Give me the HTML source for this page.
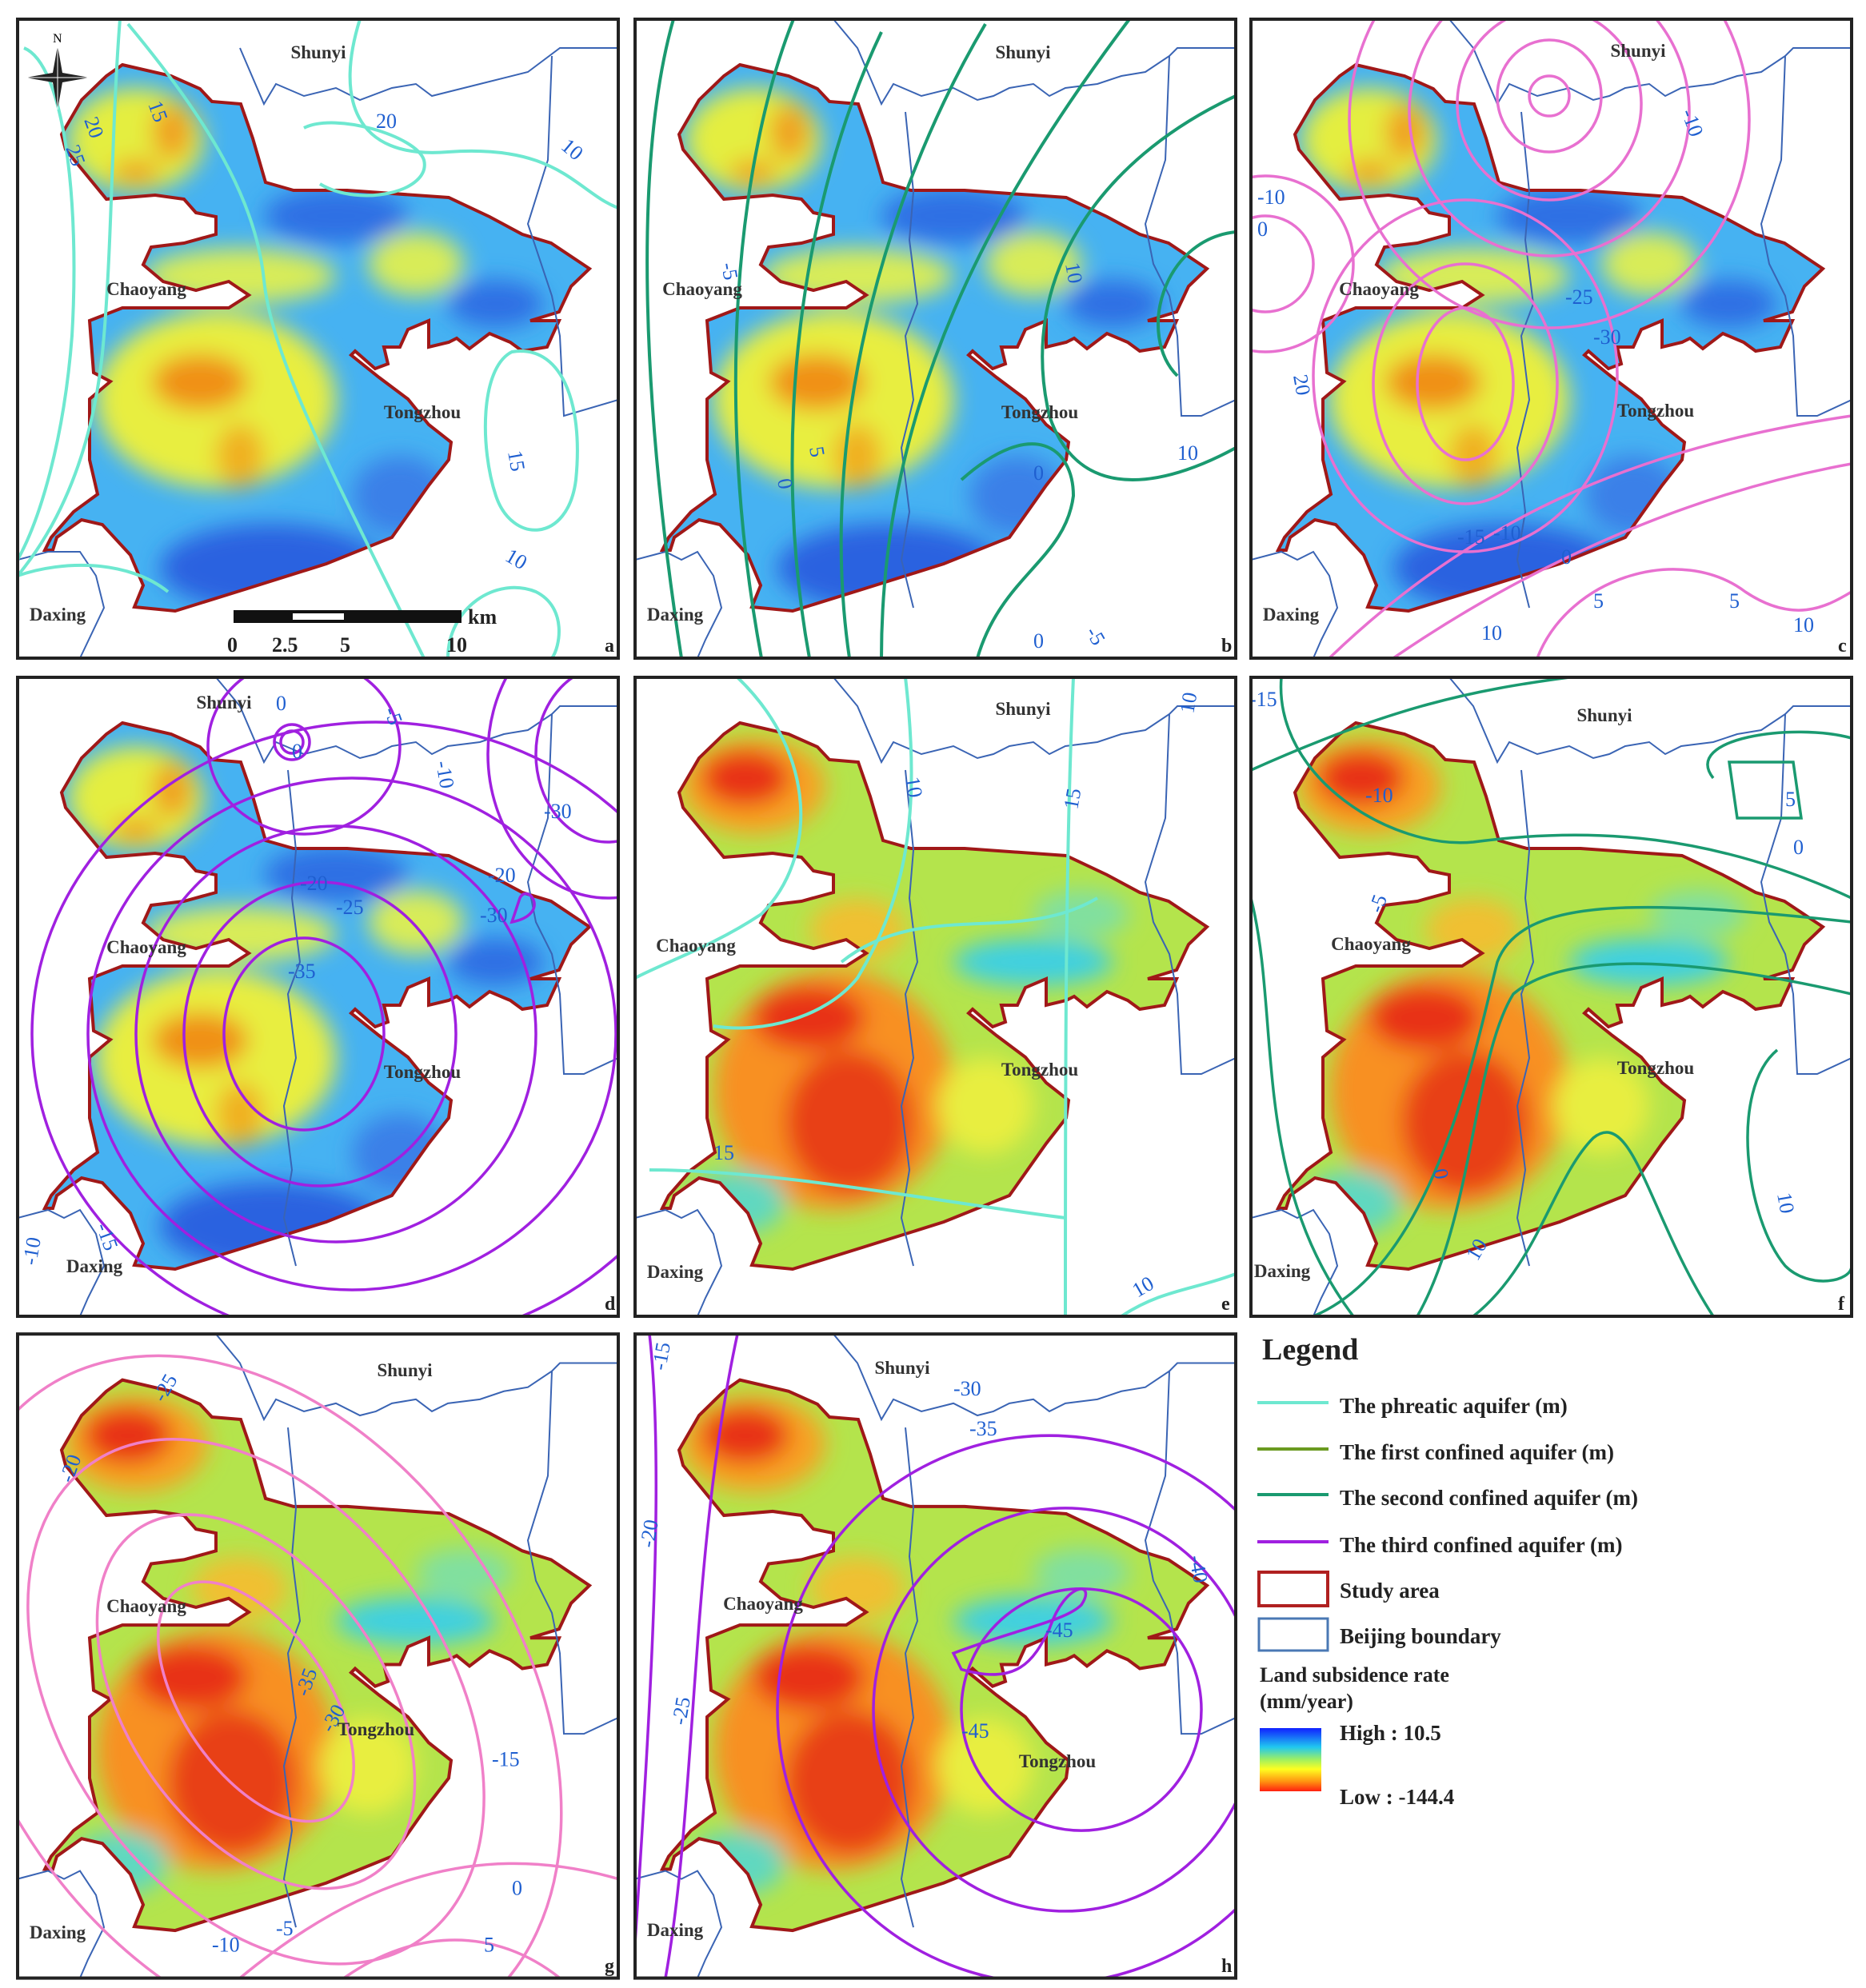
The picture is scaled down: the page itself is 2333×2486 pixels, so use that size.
<!DOCTYPE html>
<html><head><meta charset="utf-8"><style>html,body{margin:0;padding:0;background:#fff;overflow:hidden;width:2333px;height:2486px}svg{display:block}</style></head>
<body>
<svg xmlns="http://www.w3.org/2000/svg" xmlns:xlink="http://www.w3.org/1999/xlink" width="2333" height="2486" viewBox="0 0 2333 2486">
<defs>
<path id="sa" d="M153 81 L214 95 L250 111 L265 127 L301 130 L316 173 L332 228 L367 238 L434 238 L561 247 L612 271 L653 293 L689 304 L737 336 L714 358 L699 390 L663 401 L699 401 L684 434 L653 439 L638 428 L612 417 L587 436 L571 423 L561 428 L536 434 L536 401 L510 412 L500 434 L480 434 L485 455 L469 461 L444 439 L439 444 L474 472 L510 499 L536 531 L564 553 L561 575 L536 607 L490 672 L408 705 L306 737 L219 764 L168 759 L179 732 L163 694 L128 656 L102 650 L71 672 L66 688 L56 688 L64 672 L92 640 L122 618 L112 575 L112 499 L138 477 L117 466 L112 401 L153 385 L286 385 L311 369 L286 352 L245 363 L204 352 L179 331 L189 309 L230 304 L270 293 L270 271 L245 266 L230 249 L194 244 L133 249 L82 187 L77 168 L102 125 L133 95 Z"/>
<clipPath id="clipSa"><use xlink:href="#sa"/></clipPath>
<clipPath id="clipP"><rect x="22" y="24" width="751" height="799"/></clipPath>
<filter id="bl" x="-50%" y="-50%" width="200%" height="200%"><feGaussianBlur stdDeviation="14"/></filter>
<linearGradient id="cb" x1="0" y1="0" x2="0" y2="1">
<stop offset="0" stop-color="#1020ff"/><stop offset="0.3" stop-color="#20c8f0"/><stop offset="0.5" stop-color="#a0f060"/><stop offset="0.65" stop-color="#ffff20"/><stop offset="0.85" stop-color="#ff9010"/><stop offset="1" stop-color="#ff2010"/></linearGradient>
<g id="fillBlue">
<rect x="22" y="24" width="751" height="799" fill="#46b2f2"/>
<g filter="url(#bl)">
<ellipse cx="170" cy="175" rx="85" ry="65" fill="#e4ee40"/>
<ellipse cx="215" cy="165" rx="25" ry="35" fill="#f0a020"/>
<ellipse cx="170" cy="215" rx="30" ry="15" fill="#f0a020"/>
<ellipse cx="300" cy="345" rx="120" ry="35" fill="#d8ec58"/>
<ellipse cx="520" cy="330" rx="60" ry="40" fill="#d8ec58"/>
<ellipse cx="270" cy="500" rx="150" ry="110" fill="#e8ee40"/>
<ellipse cx="250" cy="478" rx="60" ry="35" fill="#f09018"/>
<ellipse cx="300" cy="570" rx="30" ry="40" fill="#f0b020"/>
<ellipse cx="340" cy="710" rx="140" ry="55" fill="#2a62e0"/>
<ellipse cx="420" cy="270" rx="90" ry="35" fill="#2e70e4"/>
<ellipse cx="620" cy="380" rx="60" ry="30" fill="#2e70e4"/>
<ellipse cx="500" cy="620" rx="60" ry="50" fill="#3a80e8"/>
</g></g>
<g id="fillRed">
<rect x="22" y="24" width="751" height="799" fill="#b4e44c"/>
<g filter="url(#bl)">
<ellipse cx="170" cy="160" rx="90" ry="60" fill="#f8a020"/>
<ellipse cx="160" cy="150" rx="55" ry="35" fill="#e83018"/>
<ellipse cx="300" cy="340" rx="60" ry="40" fill="#f0c030"/>
<ellipse cx="270" cy="540" rx="150" ry="150" fill="#f89020"/>
<ellipse cx="240" cy="450" rx="70" ry="40" fill="#e83018"/>
<ellipse cx="290" cy="580" rx="80" ry="90" fill="#e84018"/>
<ellipse cx="520" cy="380" rx="100" ry="30" fill="#40d0e0"/>
<ellipse cx="580" cy="320" rx="60" ry="30" fill="#80e0a0"/>
<ellipse cx="150" cy="680" rx="60" ry="40" fill="#60d8c0"/>
<ellipse cx="460" cy="560" rx="60" ry="60" fill="#e8ee40"/>
</g></g>
<g id="sb"><g clip-path="url(#clipSa)"><use xlink:href="#fillBlue"/></g><use xlink:href="#sa" fill="none" stroke="#a01818" stroke-width="4"/></g>
<g id="sr"><g clip-path="url(#clipSa)"><use xlink:href="#fillRed"/></g><use xlink:href="#sa" fill="none" stroke="#a01818" stroke-width="4"/></g>
<path id="bj" d="M270 24 L300 60 L330 130 L345 105 L380 120 L420 110 L450 125 L470 120 L490 110 L520 105 L540 120 L560 110 L600 105 L630 95 L660 90 L690 70 L700 60 L773 60 M690 70 L685 200 L660 280 L670 330 L690 370 L700 420 L705 520 L730 520 L773 500 M22 700 L60 690 L80 700 L100 690 L120 720 L130 760 L110 800 L100 823 M360 140 L370 240 L365 300 L375 380 L360 420 L370 500 L355 560 L365 640 L355 700 L370 760" fill="none" stroke="#3a64b4" stroke-width="2"/>
</defs>

<!-- a -->
<g transform="translate(0,0)">
<g clip-path="url(#clipP)">
<use xlink:href="#sb"/>
<path d="M300 60 L330 130 L345 105 L380 120 L420 110 L450 125 L490 110 L520 105 L540 120 L600 105 L660 90 L700 60 L773 60 M690 70 L685 200 L660 280 L690 370 L700 420 L705 520 L773 500 M22 700 L60 690 L100 690 L120 720 L130 760 L100 823" fill="none" stroke="#3a64b4" stroke-width="2"/>
<g fill="none" stroke="#6ee8d0" stroke-width="4">
<path d="M30 60 C 80 80, 100 250, 90 420 C 80 550, 50 650, 22 700"/>
<path d="M150 24 C 140 150, 140 300, 130 420 C 120 550, 80 650, 22 720"/>
<path d="M160 30 C 260 150, 320 250, 330 350 C 340 450, 420 600, 530 823"/>
<path d="M450 24 C 420 120, 440 200, 560 190 C 700 180, 720 240, 773 260"/>
<path d="M380 160 C 420 140, 520 170, 530 200 C 540 240, 450 260, 400 230"/>
<path d="M640 440 C 700 430, 730 500, 720 600 C 710 680, 640 680, 620 620 C 600 560, 600 460, 640 440 Z"/>
<path d="M560 823 C 560 760, 620 720, 670 740 C 710 760, 700 810, 690 823"/>
<path d="M22 720 C 80 700, 160 700, 210 740"/>
</g>
<g font-family="Liberation Serif,serif" font-size="26" fill="#1f5fd0">
<text x="105" y="150" transform="rotate(70 105 150)">20</text>
<text x="82" y="185" transform="rotate(70 82 185)">25</text>
<text x="185" y="130" transform="rotate(70 185 130)">15</text>
<text x="470" y="160">20</text>
<text x="700" y="185" transform="rotate(40 700 185)">10</text>
<text x="635" y="565" transform="rotate(80 635 565)">15</text>
<text x="630" y="700" transform="rotate(30 630 700)">10</text>
</g>
</g>
<rect x="22" y="24" width="751" height="799" fill="none" stroke="#222" stroke-width="4"/>
<g transform="translate(72,97)"><path d="M0 -40 L6 -6 L40 0 L6 6 L0 40 L-6 6 L-40 0 L-6 -6 Z" fill="#222"/><path d="M0 -40 L0 40 M-40 0 L40 0" stroke="#fff" stroke-width="1"/><text x="-6" y="-44" font-family="Liberation Serif,serif" font-size="16">N</text></g>
<rect x="292" y="763" width="285" height="16" fill="#111"/>
<rect x="366" y="767" width="64" height="8" fill="#fff"/>
<g font-family="Liberation Serif,serif" font-weight="bold" font-size="26" fill="#222">
<text x="585" y="780">km</text>
<text x="284" y="815">0</text><text x="340" y="815">2.5</text><text x="425" y="815">5</text><text x="558" y="815">10</text>
</g>
</g>

<!-- b -->
<g transform="translate(772,0)">
<g clip-path="url(#clipP)">
<use xlink:href="#sb"/>
<use xlink:href="#bj"/>
<g fill="none" stroke="#1a9a70" stroke-width="4">
<path d="M70 24 C 20 200, 30 500, 80 823"/>
<path d="M220 24 C 150 200, 120 500, 180 823"/>
<path d="M330 40 C 230 250, 190 550, 240 823"/>
<path d="M460 30 C 330 250, 250 550, 290 823"/>
<path d="M640 24 C 470 250, 330 500, 330 823"/>
<path d="M773 120 C 600 200, 500 350, 540 520 C 580 640, 700 600, 773 560"/>
<path d="M773 290 C 680 300, 650 420, 700 470"/>
<path d="M430 600 C 520 520, 570 560, 570 620 C 560 700, 480 720, 450 823"/>
</g>
<g font-family="Liberation Serif,serif" font-size="26" fill="#1f5fd0">
<text x="130" y="330" transform="rotate(80 130 330)">-5</text>
<text x="200" y="600" transform="rotate(80 200 600)">0</text>
<text x="240" y="560" transform="rotate(80 240 560)">5</text>
<text x="560" y="330" transform="rotate(80 560 330)">10</text>
<text x="520" y="600">0</text>
<text x="700" y="575">10</text>
<text x="520" y="810">0</text>
<text x="585" y="790" transform="rotate(60 585 790)">-5</text>
</g>
</g>
<rect x="22" y="24" width="751" height="799" fill="none" stroke="#222" stroke-width="4"/>
</g>

<!-- c -->
<g transform="translate(1542,0)">
<g clip-path="url(#clipP)">
<use xlink:href="#sb"/>
<use xlink:href="#bj"/>
<g fill="none" stroke="#e870d0" stroke-width="3.5">
<ellipse cx="395" cy="120" rx="25" ry="25"/>
<ellipse cx="395" cy="120" rx="65" ry="70"/>
<ellipse cx="395" cy="130" rx="115" ry="120"/>
<ellipse cx="395" cy="140" rx="175" ry="180"/>
<ellipse cx="395" cy="150" rx="250" ry="260"/>
<ellipse cx="290" cy="480" rx="60" ry="95"/>
<ellipse cx="290" cy="480" rx="115" ry="150"/>
<ellipse cx="290" cy="470" rx="190" ry="220"/>
<ellipse cx="40" cy="330" rx="60" ry="60"/>
<ellipse cx="40" cy="330" rx="110" ry="110"/>
<path d="M120 823 C 300 650, 500 560, 773 520"/>
<path d="M200 823 C 350 720, 550 620, 773 580"/>
<path d="M380 823 C 420 720, 560 680, 640 740 C 700 780, 740 760, 773 740"/>
</g>
<g font-family="Liberation Serif,serif" font-size="26" fill="#1f5fd0">
<text x="30" y="255">-10</text><text x="30" y="295">0</text>
<text x="75" y="470" transform="rotate(80 75 470)">20</text>
<text x="415" y="380">-25</text><text x="450" y="430">-30</text>
<text x="280" y="680">-15</text><text x="325" y="675">-10</text>
<text x="410" y="705">0</text><text x="450" y="760">5</text><text x="620" y="760">5</text>
<text x="310" y="800">10</text><text x="700" y="790">10</text>
<text x="560" y="140" transform="rotate(70 560 140)">-10</text>
</g>
</g>
<rect x="22" y="24" width="751" height="799" fill="none" stroke="#222" stroke-width="4"/>
</g>

<!-- d -->
<g transform="translate(0,823)">
<g clip-path="url(#clipP)">
<use xlink:href="#sb"/>
<use xlink:href="#bj"/>
<g fill="none" stroke="#a020e0" stroke-width="3.5">
<ellipse cx="365" cy="105" rx="22" ry="22"/>
<ellipse cx="365" cy="105" rx="14" ry="14"/>
<ellipse cx="380" cy="110" rx="120" ry="110"/>
<ellipse cx="380" cy="470" rx="100" ry="120"/>
<ellipse cx="400" cy="470" rx="170" ry="190"/>
<ellipse cx="420" cy="470" rx="250" ry="260"/>
<ellipse cx="440" cy="470" rx="330" ry="320"/>
<ellipse cx="470" cy="470" rx="430" ry="390"/>
<ellipse cx="760" cy="120" rx="90" ry="110"/>
<ellipse cx="760" cy="120" rx="150" ry="180"/>
<path d="M650 300 C 660 280, 690 320, 640 330 Z"/>
</g>
<g font-family="Liberation Serif,serif" font-size="26" fill="#1f5fd0">
<text x="345" y="65">0</text><text x="365" y="125">0</text>
<text x="480" y="65" transform="rotate(70 480 65)">-5</text>
<text x="545" y="130" transform="rotate(80 545 130)">-10</text>
<text x="680" y="200">-30</text>
<text x="375" y="290">-20</text><text x="420" y="320">-25</text>
<text x="360" y="400">-35</text><text x="610" y="280">-20</text><text x="600" y="330">-30</text>
<text x="120" y="710" transform="rotate(70 120 710)">-15</text>
<text x="45" y="760" transform="rotate(-80 45 760)">-10</text>
</g>
</g>
<rect x="22" y="24" width="751" height="799" fill="none" stroke="#222" stroke-width="4"/>
</g>

<!-- e -->
<g transform="translate(772,823)">
<g clip-path="url(#clipP)">
<use xlink:href="#sr"/>
<use xlink:href="#bj"/>
<g fill="none" stroke="#6ee8d0" stroke-width="4">
<path d="M150 24 C 250 120, 250 250, 180 320 C 120 360, 60 380, 22 400"/>
<path d="M360 24 C 380 200, 360 300, 300 400 C 260 450, 180 470, 120 460"/>
<path d="M570 24 C 560 250, 560 500, 560 823"/>
<path d="M40 640 C 200 640, 400 680, 560 700"/>
<path d="M280 380 C 380 300, 500 360, 600 300"/>
<path d="M630 823 C 680 790, 720 790, 773 770"/>
</g>
<g font-family="Liberation Serif,serif" font-size="26" fill="#1f5fd0">
<text x="360" y="150" transform="rotate(80 360 150)">10</text>
<text x="575" y="190" transform="rotate(-80 575 190)">15</text>
<text x="720" y="70" transform="rotate(-80 720 70)">10</text>
<text x="120" y="627">15</text>
<text x="650" y="800" transform="rotate(-30 650 800)">10</text>
</g>
</g>
<rect x="22" y="24" width="751" height="799" fill="none" stroke="#222" stroke-width="4"/>
</g>

<!-- f -->
<g transform="translate(1542,823)">
<g clip-path="url(#clipP)">
<use xlink:href="#sr"/>
<use xlink:href="#bj"/>
<g fill="none" stroke="#1a9a70" stroke-width="3.5">
<path d="M22 140 C 200 60, 300 40, 420 24"/>
<path d="M60 24 C 50 150, 200 240, 300 230 C 450 210, 600 220, 773 300"/>
<path d="M22 300 C 60 450, 20 650, 150 823"/>
<path d="M100 823 C 250 760, 300 500, 330 380 C 360 300, 500 300, 773 330"/>
<path d="M230 823 C 300 700, 300 500, 350 420 C 420 360, 600 380, 773 420"/>
<path d="M300 823 C 380 760, 400 650, 450 600 C 500 560, 520 700, 600 823"/>
<path d="M600 150 C 560 100, 700 80, 773 100 M620 130 L700 130 L710 200 L630 200 Z"/>
<path d="M680 490 C 620 540, 640 700, 690 760 C 720 790, 773 780, 773 760"/>
</g>
<g font-family="Liberation Serif,serif" font-size="26" fill="#1f5fd0">
<text x="20" y="60">-15</text><text x="165" y="180">-10</text>
<text x="185" y="320" transform="rotate(-70 185 320)">-5</text>
<text x="690" y="185">5</text><text x="700" y="245">0</text>
<text x="680" y="670" transform="rotate(80 680 670)">10</text>
<text x="250" y="640" transform="rotate(80 250 640)">0</text>
<text x="305" y="755" transform="rotate(-60 305 755)">10</text>
</g>
</g>
<rect x="22" y="24" width="751" height="799" fill="none" stroke="#222" stroke-width="4"/>
</g>

<!-- g -->
<g transform="translate(0,1644) scale(1,1.008)">
<g clip-path="url(#clipP)">
<use xlink:href="#sr"/>
<use xlink:href="#bj"/>
<g fill="none" stroke="#f080c8" stroke-width="3.5">
<g transform="rotate(-35 320 480)">
<ellipse cx="320" cy="480" rx="90" ry="170"/>
<ellipse cx="320" cy="480" rx="160" ry="260"/>
<ellipse cx="320" cy="480" rx="240" ry="360"/>
<ellipse cx="320" cy="480" rx="330" ry="470"/>
</g>
<path d="M300 823 C 450 700, 600 650, 773 700"/>
<path d="M430 823 C 520 760, 620 760, 700 823"/>
</g>
<g font-family="Liberation Serif,serif" font-size="26" fill="#1f5fd0">
<text x="90" y="210" transform="rotate(-70 90 210)">-20</text>
<text x="205" y="110" transform="rotate(-60 205 110)">-25</text>
<text x="385" y="475" transform="rotate(-70 385 475)">-35</text>
<text x="415" y="520" transform="rotate(-60 415 520)">-30</text>
<text x="615" y="560">-15</text><text x="640" y="720">0</text><text x="605" y="790">5</text>
<text x="265" y="790">-10</text><text x="345" y="770">-5</text>
</g>
</g>
<rect x="22" y="24" width="751" height="799" fill="none" stroke="#222" stroke-width="4"/>
</g>

<!-- h -->
<g transform="translate(772,1644) scale(1,1.008)">
<g clip-path="url(#clipP)">
<use xlink:href="#sr"/>
<use xlink:href="#bj"/>
<g fill="none" stroke="#a020e0" stroke-width="3.5">
<path d="M22 780 C 40 500, 60 200, 40 24"/>
<path d="M60 823 C 100 600, 90 300, 150 24"/>
<ellipse cx="580" cy="490" rx="150" ry="150"/>
<ellipse cx="560" cy="490" rx="240" ry="250"/>
<ellipse cx="540" cy="490" rx="340" ry="340"/>
<path d="M420 420 C 500 390, 560 380, 580 360 C 600 330, 560 330, 540 390 C 520 430, 500 460, 430 440 Z"/>
</g>
<g font-family="Liberation Serif,serif" font-size="26" fill="#1f5fd0">
<text x="60" y="70" transform="rotate(-80 60 70)">-15</text>
<text x="45" y="290" transform="rotate(-80 45 290)">-20</text>
<text x="85" y="510" transform="rotate(-80 85 510)">-25</text>
<text x="420" y="100">-30</text><text x="440" y="150">-35</text>
<text x="430" y="525">-45</text><text x="535" y="400">-45</text>
<text x="715" y="300" transform="rotate(80 715 300)">-40</text>
</g>
</g>
<rect x="22" y="24" width="751" height="799" fill="none" stroke="#222" stroke-width="4"/>
</g>

<g font-family="Liberation Serif,serif" font-weight="bold" font-size="23" fill="#333" text-anchor="middle">
<text x="398" y="73">Shunyi</text><text x="183" y="369">Chaoyang</text><text x="528" y="523">Tongzhou</text><text x="72" y="776">Daxing</text>
<text x="1279" y="73">Shunyi</text><text x="878" y="369">Chaoyang</text><text x="1300" y="523">Tongzhou</text><text x="844" y="776">Daxing</text>
<text x="2048" y="71">Shunyi</text><text x="1724" y="369">Chaoyang</text><text x="2070" y="521">Tongzhou</text><text x="1614" y="776">Daxing</text>
<text x="280" y="886">Shunyi</text><text x="183" y="1192">Chaoyang</text><text x="528" y="1348">Tongzhou</text><text x="118" y="1591">Daxing</text>
<text x="1279" y="894">Shunyi</text><text x="870" y="1190">Chaoyang</text><text x="1300" y="1345">Tongzhou</text><text x="844" y="1598">Daxing</text>
<text x="2006" y="902">Shunyi</text><text x="1714" y="1188">Chaoyang</text><text x="2070" y="1343">Tongzhou</text><text x="1603" y="1597">Daxing</text>
<text x="506" y="1721">Shunyi</text><text x="183" y="2016">Chaoyang</text><text x="470" y="2170">Tongzhou</text><text x="72" y="2424">Daxing</text>
<text x="1128" y="1718">Shunyi</text><text x="954" y="2013">Chaoyang</text><text x="1322" y="2210">Tongzhou</text><text x="844" y="2421">Daxing</text>
</g>
<g font-family="Liberation Serif,serif" font-weight="bold" font-size="24" fill="#222">
<text x="756" y="815">a</text><text x="1527" y="815">b</text><text x="2298" y="815">c</text>
<text x="756" y="1638">d</text><text x="1527" y="1638">e</text><text x="2298" y="1638">f</text>
<text x="756" y="2466">g</text><text x="1527" y="2466">h</text>
</g>

<g font-family="Liberation Serif,serif" font-weight="bold" fill="#222">
<text x="1578" y="1700" font-size="38">Legend</text>
<line x1="1572" y1="1754" x2="1661" y2="1754" stroke="#6ee8d0" stroke-width="4"/>
<line x1="1572" y1="1812" x2="1661" y2="1812" stroke="#6a9a20" stroke-width="4"/>
<line x1="1572" y1="1869" x2="1661" y2="1869" stroke="#1a9a70" stroke-width="4"/>
<line x1="1572" y1="1928" x2="1661" y2="1928" stroke="#a020e0" stroke-width="4"/>
<g font-size="27">
<text x="1675" y="1767">The phreatic aquifer (m)</text>
<text x="1675" y="1825">The first confined aquifer (m)</text>
<text x="1675" y="1882">The second confined aquifer (m)</text>
<text x="1675" y="1941">The third confined aquifer (m)</text>
<text x="1675" y="1998">Study area</text>
<text x="1675" y="2055">Beijing boundary</text>
<text x="1575" y="2103" font-size="26">Land subsidence rate</text>
<text x="1575" y="2136" font-size="26">(mm/year)</text>
<text x="1675" y="2176">High : 10.5</text>
<text x="1675" y="2256">Low : -144.4</text>
</g>
<rect x="1574" y="1966" width="86" height="42" fill="none" stroke="#b02020" stroke-width="4"/>
<rect x="1574" y="2024" width="86" height="40" fill="none" stroke="#4a78b4" stroke-width="3"/>
<rect x="1575" y="2161" width="77" height="79" fill="url(#cb)"/>
</g>
</svg>
</body></html>
